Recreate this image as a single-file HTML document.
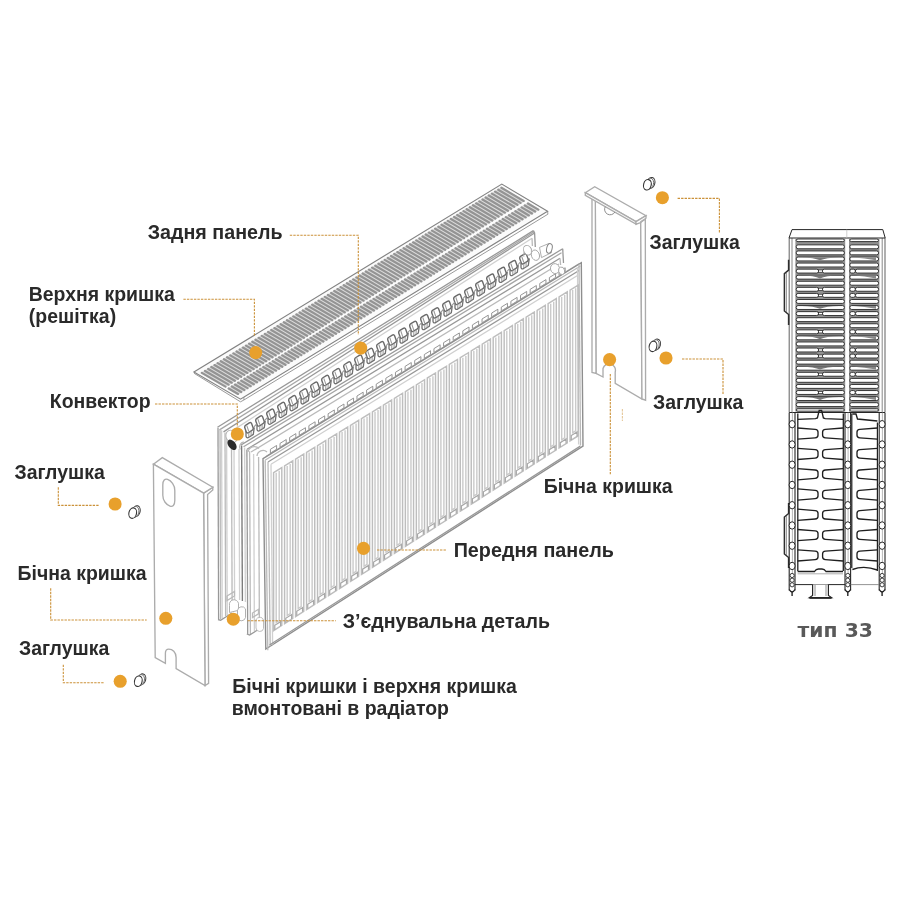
<!DOCTYPE html>
<html lang="uk">
<head>
<meta charset="utf-8">
<title>Радіатор тип 33</title>
<style>
html,body{margin:0;padding:0;background:#fff;}
body{width:900px;height:900px;overflow:hidden;position:relative;font-family:"Liberation Sans",sans-serif;}
svg{position:absolute;left:0;top:0;display:block;filter:blur(.45px)}
.lbl{filter:blur(.35px);position:absolute;white-space:nowrap;font-weight:bold;font-size:19.45px;line-height:21px;color:#2a2a2a;letter-spacing:0}
.typ{filter:blur(.35px);position:absolute;white-space:nowrap;font-family:"DejaVu Sans",sans-serif;font-weight:bold;font-size:20.3px;line-height:22px;color:#595959}
.g1{stroke:#989898;stroke-width:1.3;fill:none}
.g2{stroke:#bababa;stroke-width:1.3;fill:none}
.g2d{stroke:#a6a6a6;stroke-width:1.3;fill:none}
.g3{stroke:#d0d0d0;stroke-width:1.3;fill:none}
.gd{stroke:#7c7c7c;stroke-width:1.4;fill:none}
.wf{fill:#fff}
.dot{fill:#e8a02c;stroke:none}
.dash{stroke:#cb9138;stroke-width:1.1;fill:none;stroke-dasharray:2.4 1.1}
.sv{stroke:#4a4a4a;stroke-width:1;fill:none}
.svl{stroke:#6a6a6a;stroke-width:.8;fill:none}
</style>
</head>
<body>
<svg width="900" height="900" viewBox="0 0 900 900">
<g id="radiator">
<line x1="217.5" y1="427.3" x2="533.4" y2="230.6" class="g1"/>
<line x1="219.5" y1="429.9" x2="534" y2="231.8" class="g2d"/>
<line x1="223.5" y1="431.9" x2="534.2" y2="233.3" class="g1"/>
<line x1="226.5" y1="434.4" x2="532" y2="238.2" class="g3"/>
<polyline points="533.4,230.6 534.6,233 535.3,247" class="g1"/>
<polyline points="532,238.2 532.4,246" class="g2"/>
<line x1="218" y1="427.8" x2="218.6" y2="619.5" class="g1"/>
<line x1="220" y1="429.2" x2="220.6" y2="619.3" class="g2"/>
<line x1="221.6" y1="430.3" x2="222.2" y2="618.3" class="g3"/>
<line x1="225" y1="432.6" x2="225.6" y2="616" class="g2"/>
<line x1="226.6" y1="434" x2="227.2" y2="615" class="g3"/>
<line x1="231.5" y1="441" x2="232.1" y2="603" class="g2"/>
<line x1="234" y1="447" x2="234.6" y2="601" class="g3"/>
<line x1="239" y1="449" x2="239.6" y2="600" class="g3"/>
<polyline points="218,619.6 220.6,620.2 232,613" class="g1"/>
<polygon points="227,600.5 227,596 234.5,591.5 234.5,596" class="g2"/>
<path d="M246 431.4L246 436.2Q246.3 438.2 248.1 437.7L253.3 434.4L254.2 427.8ZM257 424.64L257 429.44Q257.3 431.44 259.1 430.94L264.3 427.64L265.2 421.04ZM268 417.89L268 422.69Q268.3 424.69 270.1 424.19L275.3 420.89L276.2 414.29ZM279 411.13L279 415.93Q279.3 417.93 281.1 417.43L286.3 414.13L287.2 407.53ZM290 404.38L290 409.18Q290.3 411.18 292.1 410.68L297.3 407.38L298.2 400.78ZM301 397.62L301 402.42Q301.3 404.42 303.1 403.92L308.3 400.62L309.2 394.02ZM312 390.87L312 395.67Q312.3 397.67 314.1 397.17L319.3 393.87L320.2 387.27ZM323 384.11L323 388.91Q323.3 390.91 325.1 390.41L330.3 387.11L331.2 380.51ZM334 377.36L334 382.16Q334.3 384.16 336.1 383.66L341.3 380.36L342.2 373.76ZM345 370.6L345 375.4Q345.3 377.4 347.1 376.9L352.3 373.6L353.2 367ZM356 363.85L356 368.65Q356.3 370.65 358.1 370.15L363.3 366.85L364.2 360.25ZM367 357.09L367 361.89Q367.3 363.89 369.1 363.39L374.3 360.09L375.2 353.49ZM378 350.34L378 355.14Q378.3 357.14 380.1 356.64L385.3 353.34L386.2 346.74ZM389 343.58L389 348.38Q389.3 350.38 391.1 349.88L396.3 346.58L397.2 339.98ZM400 336.82L400 341.62Q400.3 343.62 402.1 343.12L407.3 339.82L408.2 333.22ZM411 330.07L411 334.87Q411.3 336.87 413.1 336.37L418.3 333.07L419.2 326.47ZM422 323.31L422 328.11Q422.3 330.11 424.1 329.61L429.3 326.31L430.2 319.71ZM433 316.56L433 321.36Q433.3 323.36 435.1 322.86L440.3 319.56L441.2 312.96ZM444 309.8L444 314.6Q444.3 316.6 446.1 316.1L451.3 312.8L452.2 306.2ZM455 303.05L455 307.85Q455.3 309.85 457.1 309.35L462.3 306.05L463.2 299.45ZM466 296.29L466 301.09Q466.3 303.09 468.1 302.59L473.3 299.29L474.2 292.69ZM477 289.54L477 294.34Q477.3 296.34 479.1 295.84L484.3 292.54L485.2 285.94ZM488 282.78L488 287.58Q488.3 289.58 490.1 289.08L495.3 285.78L496.2 279.18ZM499 276.03L499 280.83Q499.3 282.83 501.1 282.33L506.3 279.03L507.2 272.43ZM510 269.27L510 274.07Q510.3 276.07 512.1 275.57L517.3 272.27L518.2 265.67ZM521 262.52L521 267.32Q521.3 269.32 523.1 268.82L528.3 265.52L529.2 258.92Z" fill="#fff" stroke="#707070" stroke-width="1.3" stroke-linejoin="round"/>
<path d="M244.88 427.98Q244.2 426.1 245.9 425.05L249.3 422.95Q251 421.9 251.68 423.78L253.02 427.52Q253.7 429.4 252 430.45L248.6 432.55Q246.9 433.6 246.22 431.72ZM255.88 421.23Q255.2 419.34 256.9 418.29L260.3 416.2Q262 415.14 262.68 417.03L264.02 420.76Q264.7 422.64 263 423.7L259.6 425.79Q257.9 426.84 257.22 424.96ZM266.88 414.47Q266.2 412.59 267.9 411.54L271.3 409.44Q273 408.39 273.68 410.27L275.02 414.01Q275.7 415.89 274 416.94L270.6 419.04Q268.9 420.09 268.22 418.21ZM277.88 407.72Q277.2 405.83 278.9 404.78L282.3 402.68Q284 401.63 284.68 403.52L286.02 407.25Q286.7 409.13 285 410.18L281.6 412.28Q279.9 413.33 279.22 411.45ZM288.88 400.96Q288.2 399.08 289.9 398.03L293.3 395.93Q295 394.88 295.68 396.76L297.02 400.5Q297.7 402.38 296 403.43L292.6 405.53Q290.9 406.58 290.22 404.7ZM299.88 394.2Q299.2 392.32 300.9 391.27L304.3 389.17Q306 388.12 306.68 390L308.02 393.74Q308.7 395.62 307 396.67L303.6 398.77Q301.9 399.82 301.22 397.94ZM310.88 387.45Q310.2 385.57 311.9 384.52L315.3 382.42Q317 381.37 317.68 383.25L319.02 386.99Q319.7 388.87 318 389.92L314.6 392.02Q312.9 393.07 312.22 391.19ZM321.88 380.69Q321.2 378.81 322.9 377.76L326.3 375.66Q328 374.61 328.68 376.49L330.02 380.23Q330.7 382.11 329 383.16L325.6 385.26Q323.9 386.31 323.22 384.43ZM332.88 373.94Q332.2 372.06 333.9 371.01L337.3 368.91Q339 367.86 339.68 369.74L341.02 373.48Q341.7 375.36 340 376.41L336.6 378.51Q334.9 379.56 334.22 377.68ZM343.88 367.18Q343.2 365.3 344.9 364.25L348.3 362.15Q350 361.1 350.68 362.98L352.02 366.72Q352.7 368.6 351 369.65L347.6 371.75Q345.9 372.8 345.22 370.92ZM354.88 360.43Q354.2 358.55 355.9 357.5L359.3 355.4Q361 354.35 361.68 356.23L363.02 359.96Q363.7 361.85 362 362.9L358.6 365Q356.9 366.05 356.22 364.16ZM365.88 353.67Q365.2 351.79 366.9 350.74L370.3 348.64Q372 347.59 372.68 349.47L374.02 353.21Q374.7 355.09 373 356.14L369.6 358.24Q367.9 359.29 367.22 357.41ZM376.88 346.92Q376.2 345.04 377.9 343.98L381.3 341.89Q383 340.84 383.68 342.72L385.02 346.45Q385.7 348.34 384 349.39L380.6 351.48Q378.9 352.54 378.22 350.65ZM387.88 340.16Q387.2 338.28 388.9 337.23L392.3 335.13Q394 334.08 394.68 335.96L396.02 339.7Q396.7 341.58 395 342.63L391.6 344.73Q389.9 345.78 389.22 343.9ZM398.88 333.41Q398.2 331.52 399.9 330.47L403.3 328.38Q405 327.32 405.68 329.21L407.02 332.94Q407.7 334.82 406 335.88L402.6 337.97Q400.9 339.02 400.22 337.14ZM409.88 326.65Q409.2 324.77 410.9 323.72L414.3 321.62Q416 320.57 416.68 322.45L418.02 326.19Q418.7 328.07 417 329.12L413.6 331.22Q411.9 332.27 411.22 330.39ZM420.88 319.9Q420.2 318.01 421.9 316.96L425.3 314.87Q427 313.81 427.68 315.7L429.02 319.43Q429.7 321.31 428 322.37L424.6 324.46Q422.9 325.51 422.22 323.63ZM431.88 313.14Q431.2 311.26 432.9 310.21L436.3 308.11Q438 307.06 438.68 308.94L440.02 312.68Q440.7 314.56 439 315.61L435.6 317.71Q433.9 318.76 433.22 316.88ZM442.88 306.39Q442.2 304.5 443.9 303.45L447.3 301.35Q449 300.3 449.68 302.19L451.02 305.92Q451.7 307.8 450 308.85L446.6 310.95Q444.9 312 444.22 310.12ZM453.88 299.63Q453.2 297.75 454.9 296.7L458.3 294.6Q460 293.55 460.68 295.43L462.02 299.17Q462.7 301.05 461 302.1L457.6 304.2Q455.9 305.25 455.22 303.37ZM464.88 292.87Q464.2 290.99 465.9 289.94L469.3 287.84Q471 286.79 471.68 288.67L473.02 292.41Q473.7 294.29 472 295.34L468.6 297.44Q466.9 298.49 466.22 296.61ZM475.88 286.12Q475.2 284.24 476.9 283.19L480.3 281.09Q482 280.04 482.68 281.92L484.02 285.66Q484.7 287.54 483 288.59L479.6 290.69Q477.9 291.74 477.22 289.86ZM486.88 279.36Q486.2 277.48 487.9 276.43L491.3 274.33Q493 273.28 493.68 275.16L495.02 278.9Q495.7 280.78 494 281.83L490.6 283.93Q488.9 284.98 488.22 283.1ZM497.88 272.61Q497.2 270.73 498.9 269.68L502.3 267.58Q504 266.53 504.68 268.41L506.02 272.14Q506.7 274.03 505 275.08L501.6 277.18Q499.9 278.23 499.22 276.34ZM508.88 265.85Q508.2 263.97 509.9 262.92L513.3 260.82Q515 259.77 515.68 261.65L517.02 265.39Q517.7 267.27 516 268.32L512.6 270.42Q510.9 271.47 510.22 269.59ZM519.88 259.1Q519.2 257.22 520.9 256.17L524.3 254.07Q526 253.02 526.68 254.9L528.02 258.63Q528.7 260.52 527 261.57L523.6 263.67Q521.9 264.72 521.22 262.83Z" fill="#fff" stroke="#6a6a6a" stroke-width="1.4" stroke-linejoin="round"/>
<path d="M248.8 432.6v4.199999999999999M251.1 431.2v4.3999999999999995M246.8 425.6L248.8 431.4M254 426.9L256.7 423.8M259.8 425.84v4.199999999999999M262.1 424.44v4.3999999999999995M257.8 418.84L259.8 424.64M265 420.14L267.7 417.04M270.8 419.09v4.199999999999999M273.1 417.69v4.3999999999999995M268.8 412.09L270.8 417.89M276 413.39L278.7 410.29M281.8 412.33v4.199999999999999M284.1 410.93v4.3999999999999995M279.8 405.33L281.8 411.13M287 406.63L289.7 403.53M292.8 405.58v4.199999999999999M295.1 404.18v4.3999999999999995M290.8 398.58L292.8 404.38M298 399.88L300.7 396.78M303.8 398.82v4.199999999999999M306.1 397.42v4.3999999999999995M301.8 391.82L303.8 397.62M309 393.12L311.7 390.02M314.8 392.07v4.199999999999999M317.1 390.67v4.3999999999999995M312.8 385.07L314.8 390.87M320 386.37L322.7 383.27M325.8 385.31v4.199999999999999M328.1 383.91v4.3999999999999995M323.8 378.31L325.8 384.11M331 379.61L333.7 376.51M336.8 378.56v4.199999999999999M339.1 377.16v4.3999999999999995M334.8 371.56L336.8 377.36M342 372.86L344.7 369.76M347.8 371.8v4.199999999999999M350.1 370.4v4.3999999999999995M345.8 364.8L347.8 370.6M353 366.1L355.7 363M358.8 365.05v4.199999999999999M361.1 363.65v4.3999999999999995M356.8 358.05L358.8 363.85M364 359.35L366.7 356.25M369.8 358.29v4.199999999999999M372.1 356.89v4.3999999999999995M367.8 351.29L369.8 357.09M375 352.59L377.7 349.49M380.8 351.54v4.199999999999999M383.1 350.14v4.3999999999999995M378.8 344.54L380.8 350.34M386 345.84L388.7 342.74M391.8 344.78v4.199999999999999M394.1 343.38v4.3999999999999995M389.8 337.78L391.8 343.58M397 339.08L399.7 335.98M402.8 338.02v4.199999999999999M405.1 336.62v4.3999999999999995M400.8 331.02L402.8 336.82M408 332.32L410.7 329.22M413.8 331.27v4.199999999999999M416.1 329.87v4.3999999999999995M411.8 324.27L413.8 330.07M419 325.57L421.7 322.47M424.8 324.51v4.199999999999999M427.1 323.11v4.3999999999999995M422.8 317.51L424.8 323.31M430 318.81L432.7 315.71M435.8 317.76v4.199999999999999M438.1 316.36v4.3999999999999995M433.8 310.76L435.8 316.56M441 312.06L443.7 308.96M446.8 311v4.199999999999999M449.1 309.6v4.3999999999999995M444.8 304L446.8 309.8M452 305.3L454.7 302.2M457.8 304.25v4.199999999999999M460.1 302.85v4.3999999999999995M455.8 297.25L457.8 303.05M463 298.55L465.7 295.45M468.8 297.49v4.199999999999999M471.1 296.09v4.3999999999999995M466.8 290.49L468.8 296.29M474 291.79L476.7 288.69M479.8 290.74v4.199999999999999M482.1 289.34v4.3999999999999995M477.8 283.74L479.8 289.54M485 285.04L487.7 281.94M490.8 283.98v4.199999999999999M493.1 282.58v4.3999999999999995M488.8 276.98L490.8 282.78M496 278.28L498.7 275.18M501.8 277.23v4.199999999999999M504.1 275.83v4.3999999999999995M499.8 270.23L501.8 276.03M507 271.53L509.7 268.43M512.8 270.47v4.199999999999999M515.1 269.07v4.3999999999999995M510.8 263.47L512.8 269.27M518 264.77L520.7 261.67M523.8 263.72v4.199999999999999M526.1 262.32v4.3999999999999995M521.8 256.72L523.8 262.52" fill="none" stroke="#999" stroke-width="1.05"/>
<polygon points="241,445 562.7,248.7 564,300 300,640 246.5,634" class="wf"/>
<line x1="241" y1="445" x2="562.7" y2="248.7" class="g1"/>
<line x1="243.5" y1="446.8" x2="561.5" y2="252.76" class="g2d"/>
<line x1="247" y1="449.3" x2="560" y2="258.31" class="g1"/>
<line x1="251" y1="452" x2="559" y2="264.06" class="g2"/>
<polyline points="562.7,248.7 563.5,263" class="g1"/>
<polyline points="560,258.31 560.6,265" class="g2"/>
<line x1="241.6" y1="445.5" x2="242.4" y2="601" class="gd"/>
<line x1="244.6" y1="447.6" x2="245.4" y2="602" class="g3"/>
<line x1="246.9" y1="449.5" x2="247.7" y2="634" class="g1"/>
<line x1="249.6" y1="451.3" x2="250.4" y2="634.5" class="g2"/>
<line x1="253.6" y1="454" x2="254.4" y2="631" class="g3"/>
<line x1="258.6" y1="457" x2="259.4" y2="628" class="g2"/>
<polyline points="246.8,634 249.6,635 263,626.5" class="g1"/>
<polygon points="252.5,617.5 252.5,613 258.5,609.3 258.5,613.8" class="g2"/>
<path d="M248 452a6.5 6.5 0 0 1 11 -3.5" class="g2"/>
<path d="M257 456a6 6 0 0 1 10 -4" class="g2"/>
<path d="M270.4 449.31L276.6 445.49L276.6 449.29L270.4 453.11ZM280.02 443.39L286.22 439.57L286.22 443.37L280.02 447.19ZM289.64 437.46L295.84 433.64L295.84 437.44L289.64 441.26ZM299.26 431.54L305.46 427.72L305.46 431.52L299.26 435.34ZM308.88 425.61L315.08 421.8L315.08 425.6L308.88 429.41ZM318.5 419.69L324.7 415.87L324.7 419.67L318.5 423.49ZM328.12 413.77L334.32 409.95L334.32 413.75L328.12 417.57ZM337.74 407.84L343.94 404.03L343.94 407.83L337.74 411.64ZM347.36 401.92L353.56 398.1L353.56 401.9L347.36 405.72ZM356.98 396L363.18 392.18L363.18 395.98L356.98 399.8ZM366.6 390.07L372.8 386.25L372.8 390.05L366.6 393.87ZM376.22 384.15L382.42 380.33L382.42 384.13L376.22 387.95ZM385.84 378.22L392.04 374.41L392.04 378.21L385.84 382.02ZM395.46 372.3L401.66 368.48L401.66 372.28L395.46 376.1ZM405.08 366.38L411.28 362.56L411.28 366.36L405.08 370.18ZM414.7 360.45L420.9 356.64L420.9 360.44L414.7 364.25ZM424.32 354.53L430.52 350.71L430.52 354.51L424.32 358.33ZM433.94 348.61L440.14 344.79L440.14 348.59L433.94 352.41ZM443.56 342.68L449.76 338.86L449.76 342.66L443.56 346.48ZM453.18 336.76L459.38 332.94L459.38 336.74L453.18 340.56ZM462.8 330.83L469 327.02L469 330.82L462.8 334.63ZM472.42 324.91L478.62 321.09L478.62 324.89L472.42 328.71ZM482.04 318.99L488.24 315.17L488.24 318.97L482.04 322.79ZM491.66 313.06L497.86 309.25L497.86 313.05L491.66 316.86ZM501.28 307.14L507.48 303.32L507.48 307.12L501.28 310.94ZM510.9 301.22L517.1 297.4L517.1 301.2L510.9 305.02ZM520.52 295.29L526.72 291.47L526.72 295.27L520.52 299.09ZM530.14 289.37L536.34 285.55L536.34 289.35L530.14 293.17ZM539.76 283.44L545.96 279.63L545.96 283.43L539.76 287.24ZM549.38 277.52L555.58 273.7L555.58 277.5L549.38 281.32ZM559 271.6L565.2 267.78L565.2 271.58L559 275.4Z" fill="#fff" stroke="#8a8a8a" stroke-width=".9" stroke-linejoin="round"/>
<path d="M272.5 452.8L278 449.41M282.12 446.88L287.62 443.49M291.74 440.95L297.24 437.57M301.36 435.03L306.86 431.64M310.98 429.11L316.48 425.72M320.6 423.18L326.1 419.79M330.22 417.26L335.72 413.87M339.84 411.33L345.34 407.95M349.46 405.41L354.96 402.02M359.08 399.49L364.58 396.1M368.7 393.56L374.2 390.18M378.32 387.64L383.82 384.25M387.94 381.72L393.44 378.33M397.56 375.79L403.06 372.4M407.18 369.87L412.68 366.48M416.8 363.94L422.3 360.56M426.42 358.02L431.92 354.63M436.04 352.1L441.54 348.71M445.66 346.17L451.16 342.79M455.28 340.25L460.78 336.86M464.9 334.33L470.4 330.94M474.52 328.4L480.02 325.02M484.14 322.48L489.64 319.09M493.76 316.55L499.26 313.17M503.38 310.63L508.88 307.24M513 304.71L518.5 301.32M522.62 298.78L528.12 295.4M532.24 292.86L537.74 289.47M541.86 286.94L547.36 283.55M551.48 281.01L556.98 277.63M561.1 275.09L566.6 271.7" fill="none" stroke="#6e6e6e" stroke-width="1.1"/>
<line x1="266" y1="456.6" x2="579" y2="263.86" class="g2"/>
<polygon points="263,458.7 581.3,262.7 583,446 265.8,649" fill="#fff" stroke="#8e8e8e" stroke-width="1.4"/>
<line x1="265" y1="460.2" x2="580.4" y2="265.99" class="g2"/>
<line x1="268" y1="462" x2="579" y2="270.5" class="g1"/>
<line x1="271" y1="464.3" x2="577.5" y2="275.57" class="g3"/>
<line x1="265.2" y1="460.2" x2="267.8" y2="650.2" class="g2"/>
<line x1="268" y1="462" x2="270.2" y2="646.5" class="g2"/>
<line x1="271" y1="464.3" x2="272.6" y2="644.6" class="g3"/>
<line x1="579" y1="264.5" x2="580.5" y2="445.5" class="g2"/>
<line x1="577.5" y1="267" x2="578.6" y2="444.5" class="g3"/>
<line x1="269.5" y1="645" x2="580.3" y2="446.1" class="g1"/>
<path d="M273.6 630.71L273.6 472.67L281.8 467.62L281.8 625.46ZM284.58 623.68L284.58 465.91L292.78 460.86L292.78 618.43ZM295.56 616.65L295.56 459.15L303.76 454.1L303.76 611.41ZM306.54 609.63L306.54 452.39L314.74 447.34L314.74 604.38ZM317.52 602.6L317.52 445.63L325.72 440.58L325.72 597.35ZM328.5 595.57L328.5 438.87L336.7 433.82L336.7 590.33ZM339.48 588.55L339.48 432.11L347.68 427.06L347.68 583.3ZM350.46 581.52L350.46 425.34L358.66 420.3L358.66 576.27ZM361.44 574.49L361.44 418.58L369.64 413.53L369.64 569.25ZM372.42 567.47L372.42 411.82L380.62 406.77L380.62 562.22ZM383.4 560.44L383.4 405.06L391.6 400.01L391.6 555.19ZM394.38 553.41L394.38 398.3L402.58 393.25L402.58 548.16ZM405.36 546.39L405.36 391.54L413.56 386.49L413.56 541.14ZM416.34 539.36L416.34 384.78L424.54 379.73L424.54 534.11ZM427.32 532.33L427.32 378.02L435.52 372.97L435.52 527.08ZM438.3 525.3L438.3 371.26L446.5 366.21L446.5 520.06ZM449.28 518.28L449.28 364.49L457.48 359.44L457.48 513.03ZM460.26 511.25L460.26 357.73L468.46 352.68L468.46 506ZM471.24 504.22L471.24 350.97L479.44 345.92L479.44 498.98ZM482.22 497.2L482.22 344.21L490.42 339.16L490.42 491.95ZM493.2 490.17L493.2 337.45L501.4 332.4L501.4 484.92ZM504.18 483.14L504.18 330.69L512.38 325.64L512.38 477.9ZM515.16 476.12L515.16 323.93L523.36 318.88L523.36 470.87ZM526.14 469.09L526.14 317.17L534.34 312.12L534.34 463.84ZM537.12 462.06L537.12 310.4L545.32 305.36L545.32 456.81ZM548.1 455.04L548.1 303.64L556.3 298.59L556.3 449.79ZM559.08 448.01L559.08 296.88L567.28 291.83L567.28 442.76ZM570.06 440.98L570.06 290.12L578.26 285.07L578.26 435.73Z" fill="none" stroke="#bebebe" stroke-width="1.45"/>
<path d="M274.8 629.64L274.8 625.34L280.6 621.63L280.6 625.93M285.78 622.61L285.78 618.31L291.58 614.6L291.58 618.9M296.76 615.59L296.76 611.29L302.56 607.57L302.56 611.87M307.74 608.56L307.74 604.26L313.54 600.55L313.54 604.85M318.72 601.53L318.72 597.23L324.52 593.52L324.52 597.82M329.7 594.51L329.7 590.21L335.5 586.49L335.5 590.79M340.68 587.48L340.68 583.18L346.48 579.47L346.48 583.77M351.66 580.45L351.66 576.15L357.46 572.44L357.46 576.74M362.64 573.42L362.64 569.12L368.44 565.41L368.44 569.71M373.62 566.4L373.62 562.1L379.42 558.39L379.42 562.69M384.6 559.37L384.6 555.07L390.4 551.36L390.4 555.66M395.58 552.34L395.58 548.04L401.38 544.33L401.38 548.63M406.56 545.32L406.56 541.02L412.36 537.31L412.36 541.61M417.54 538.29L417.54 533.99L423.34 530.28L423.34 534.58M428.52 531.26L428.52 526.96L434.32 523.25L434.32 527.55M439.5 524.24L439.5 519.94L445.3 516.22L445.3 520.52M450.48 517.21L450.48 512.91L456.28 509.2L456.28 513.5M461.46 510.18L461.46 505.88L467.26 502.17L467.26 506.47M472.44 503.16L472.44 498.86L478.24 495.14L478.24 499.44M483.42 496.13L483.42 491.83L489.22 488.12L489.22 492.42M494.4 489.1L494.4 484.8L500.2 481.09L500.2 485.39M505.38 482.07L505.38 477.77L511.18 474.06L511.18 478.36M516.36 475.05L516.36 470.75L522.16 467.04L522.16 471.34M527.34 468.02L527.34 463.72L533.14 460.01L533.14 464.31M538.32 460.99L538.32 456.69L544.12 452.98L544.12 457.28M549.3 453.97L549.3 449.67L555.1 445.96L555.1 450.26M560.28 446.94L560.28 442.64L566.08 438.93L566.08 443.23M571.26 439.91L571.26 435.61L577.06 431.9L577.06 436.2" fill="none" stroke="#a8a8a8" stroke-width="1.2"/>
<path d="M276.2 472.67L276.2 622.54L279.2 620.62L279.2 470.82M287.18 465.91L287.18 615.52L290.18 613.6L290.18 464.06M298.16 459.15L298.16 608.49L301.16 606.57L301.16 457.3M309.14 452.39L309.14 601.46L312.14 599.54L312.14 450.54M320.12 445.63L320.12 594.44L323.12 592.52L323.12 443.78M331.1 438.87L331.1 587.41L334.1 585.49L334.1 437.02M342.08 432.1L342.08 580.38L345.08 578.46L345.08 430.26M353.06 425.34L353.06 573.36L356.06 571.44L356.06 423.5M364.04 418.58L364.04 566.33L367.04 564.41L367.04 416.74M375.02 411.82L375.02 559.3L378.02 557.38L378.02 409.97M386 405.06L386 552.28L389 550.36L389 403.21M396.98 398.3L396.98 545.25L399.98 543.33L399.98 396.45M407.96 391.54L407.96 538.22L410.96 536.3L410.96 389.69M418.94 384.78L418.94 531.19L421.94 529.27L421.94 382.93M429.92 378.02L429.92 524.17L432.92 522.25L432.92 376.17M440.9 371.25L440.9 517.14L443.9 515.22L443.9 369.41M451.88 364.49L451.88 510.11L454.88 508.19L454.88 362.65M462.86 357.73L462.86 503.09L465.86 501.17L465.86 355.88M473.84 350.97L473.84 496.06L476.84 494.14L476.84 349.12M484.82 344.21L484.82 489.03L487.82 487.11L487.82 342.36M495.8 337.45L495.8 482.01L498.8 480.09L498.8 335.6M506.78 330.69L506.78 474.98L509.78 473.06L509.78 328.84M517.76 323.93L517.76 467.95L520.76 466.03L520.76 322.08M528.74 317.16L528.74 460.93L531.74 459.01L531.74 315.32M539.72 310.4L539.72 453.9L542.72 451.98L542.72 308.56M550.7 303.64L550.7 446.87L553.7 444.95L553.7 301.8M561.68 296.88L561.68 439.84L564.68 437.92L564.68 295.03M572.66 290.12L572.66 432.82L575.66 430.9L575.66 288.27" fill="none" stroke="#cacaca" stroke-width="1.4"/>
<ellipse cx="231.6" cy="436.5" rx="5.4" ry="6.6" transform="rotate(-30 231.6 436.5)" fill="#fff" stroke="#b0b0b0" stroke-width=".9"/>
<ellipse cx="232" cy="444.8" rx="3.7" ry="5.9" transform="rotate(-38 232 444.8)" fill="#2b2b2b" stroke="none"/>
<path d="M240.3 449.5a5 5 0 0 1 3.5 -7.5" class="g2"/>
<path d="M229.5 612.5l0 -7a4.6 4.6 0 0 1 9 -2.2l0 7z" fill="#fff" stroke="#a8a8a8" stroke-width=".9"/>
<path d="M237.5 618.5l0 -8a4.3 4.3 0 0 1 8 -1.6l0 8.6a4.3 4.3 0 0 1 -8 1z" fill="#fff" stroke="#a8a8a8" stroke-width=".9"/>
<path d="M256 628l0 -6a3.8 3.8 0 0 1 7.5 -1.5l0 8a3.8 3.8 0 0 1 -7.5 -.5z" fill="#fff" stroke="#b5b5b5" stroke-width=".9"/>
<ellipse cx="527.6" cy="250.2" rx="3.9" ry="5" transform="rotate(-25 527.6 250.2)" fill="#fff" stroke="#a6a6a6" stroke-width=".9"/>
<path d="M523.8 251.5l0 5.5M531.4 249l0 6" fill="none" stroke="#b5b5b5" stroke-width=".8"/>
<polygon points="539.5,247.4 548.6,243.6 551.6,252.6 541.5,257.6" fill="#fff" stroke="#a6a6a6" stroke-width=".9"/>
<ellipse cx="535.4" cy="255.2" rx="4" ry="5.3" transform="rotate(-18 535.4 255.2)" fill="#fff" stroke="#a6a6a6" stroke-width=".9"/>
<ellipse cx="549.4" cy="248.4" rx="2.7" ry="4.9" transform="rotate(14 549.4 248.4)" fill="#fff" stroke="#858585" stroke-width="1"/>
<ellipse cx="555" cy="268.6" rx="4.5" ry="5" transform="rotate(-15 555 268.6)" fill="#fff" stroke="#a6a6a6" stroke-width=".9"/>
<ellipse cx="561.6" cy="270.8" rx="3" ry="3.8" transform="rotate(-15 561.6 270.8)" fill="#fff" stroke="#a6a6a6" stroke-width=".9"/>
</g>
<g id="grille">
<polyline points="194.1,373.3 240.5,401.8 243.9,400 547.9,214.2 547.6,211.2" fill="#fff" stroke="#8f8f8f" stroke-width=".9"/>
<polygon points="193.9,372.1 501.8,184.1 547.6,211.2 240.5,399.2" fill="#fbfbfb" stroke="#838383" stroke-width="1.15"/>
<line x1="243.9" y1="400" x2="243.9" y2="397" stroke="#8a8a8a" stroke-width=".8"/>
<polygon points="200.32,372.9 501.4,186.82 525.22,200.92 225.48,387.53" fill="#dcdcdc" stroke="none"/>
<polygon points="227.11,388.48 527.97,202.54 539.88,209.59 238.06,394.85" fill="#dcdcdc" stroke="none"/>
<path d="M201.89 372.89L225.46 386.6M228.68 388.47L238.04 393.92M205.04 370.94L228.6 384.65M231.83 386.53L241.2 391.98M208.19 368.99L231.74 382.69M234.98 384.58L244.36 390.04M211.34 367.04L234.88 380.74M238.13 382.63L247.52 388.1M214.5 365.09L238.01 378.78M241.28 380.68L250.68 386.16M217.65 363.15L241.15 376.83M244.43 378.74L253.84 384.22M220.8 361.2L244.29 374.88M247.58 376.79L257.01 382.28M223.95 359.25L247.43 372.92M250.73 374.84L260.17 380.34M227.11 357.3L250.57 370.97M253.88 372.89L263.33 378.4M230.26 355.35L253.71 369.01M257.03 370.95L266.49 376.46M233.41 353.4L256.85 367.06M260.18 369L269.65 374.52M236.56 351.45L259.99 365.1M263.33 367.05L272.81 372.58M239.72 349.5L263.12 363.15M266.48 365.1L275.97 370.64M242.87 347.56L266.26 361.19M269.63 363.16L279.13 368.7M246.02 345.61L269.4 359.24M272.78 361.21L282.29 366.76M249.17 343.66L272.54 357.29M275.93 359.26L285.45 364.82M252.33 341.71L275.68 355.33M279.08 357.31L288.61 362.88M255.48 339.76L278.82 353.38M282.23 355.37L291.78 360.94M258.63 337.81L281.96 351.42M285.38 353.42L294.94 359M261.78 335.86L285.1 349.47M288.53 351.47L298.1 357.06M264.94 333.91L288.23 347.51M291.68 349.53L301.26 355.11M268.09 331.97L291.37 345.56M294.83 347.58L304.42 353.17M271.24 330.02L294.51 343.6M297.98 345.63L307.58 351.23M274.4 328.07L297.65 341.65M301.13 343.68L310.74 349.29M277.55 326.12L300.79 339.69M304.28 341.74L313.9 347.35M280.7 324.17L303.93 337.74M307.43 339.79L317.06 345.41M283.85 322.22L307.07 335.79M310.58 337.84L320.22 343.47M287.01 320.27L310.21 333.83M313.73 335.89L323.38 341.53M290.16 318.32L313.34 331.88M316.88 333.95L326.54 339.59M293.31 316.38L316.48 329.92M320.04 332L329.71 337.65M296.46 314.43L319.62 327.97M323.19 330.05L332.87 335.71M299.62 312.48L322.76 326.01M326.34 328.1L336.03 333.77M302.77 310.53L325.9 324.06M329.49 326.16L339.19 331.83M305.92 308.58L329.04 322.1M332.64 324.21L342.35 329.89M309.08 306.63L332.18 320.15M335.79 322.26L345.51 327.95M312.23 304.68L335.32 318.2M338.94 320.31L348.67 326.01M315.38 302.73L338.46 316.24M342.09 318.37L351.83 324.07M318.53 300.78L341.59 314.29M345.24 316.42L354.99 322.13M321.69 298.84L344.73 312.33M348.39 314.47L358.15 320.19M324.84 296.89L347.87 310.38M351.54 312.53L361.31 318.25M327.99 294.94L351.01 308.42M354.69 310.58L364.48 316.31M331.14 292.99L354.15 306.47M357.84 308.63L367.64 314.37M334.3 291.04L357.29 304.51M360.99 306.68L370.8 312.43M337.45 289.09L360.43 302.56M364.14 304.74L373.96 310.49M340.6 287.14L363.57 300.6M367.29 302.79L377.12 308.55M343.76 285.19L366.71 298.65M370.44 300.84L380.28 306.61M346.91 283.25L369.85 296.7M373.59 298.89L383.44 304.67M350.06 281.3L372.98 294.74M376.74 296.95L386.6 302.73M353.21 279.35L376.12 292.79M379.89 295L389.76 300.79M356.37 277.4L379.26 290.83M383.04 293.05L392.92 298.85M359.52 275.45L382.4 288.88M386.2 291.1L396.08 296.91M362.67 273.5L385.54 286.92M389.35 289.16L399.25 294.97M365.83 271.55L388.68 284.97M392.5 287.21L402.41 293.03M368.98 269.6L391.82 283.01M395.65 285.26L405.57 291.09M372.13 267.65L394.96 281.06M398.8 283.31L408.73 289.15M375.29 265.71L398.1 279.11M401.95 281.37L411.89 287.21M378.44 263.76L401.24 277.15M405.1 279.42L415.05 285.27M381.59 261.81L404.38 275.2M408.25 277.47L418.21 283.33M384.74 259.86L407.51 273.24M411.4 275.53L421.37 281.39M387.9 257.91L410.65 271.29M414.55 273.58L424.53 279.45M391.05 255.96L413.79 269.33M417.7 271.63L427.69 277.51M394.2 254.01L416.93 267.38M420.85 269.68L430.86 275.57M397.36 252.06L420.07 265.42M424 267.74L434.02 273.62M400.51 250.12L423.21 263.47M427.15 265.79L437.18 271.68M403.66 248.17L426.35 261.51M430.3 263.84L440.34 269.74M406.81 246.22L429.49 259.56M433.45 261.89L443.5 267.8M409.97 244.27L432.63 257.61M436.6 259.95L446.66 265.86M413.12 242.32L435.77 255.65M439.76 258L449.82 263.92M416.27 240.37L438.91 253.7M442.91 256.05L452.98 261.98M419.43 238.42L442.05 251.74M446.06 254.1L456.14 260.04M422.58 236.47L445.18 249.79M449.21 252.16L459.3 258.1M425.73 234.53L448.32 247.83M452.36 250.21L462.46 256.16M428.89 232.58L451.46 245.88M455.51 248.26L465.63 254.22M432.04 230.63L454.6 243.92M458.66 246.31L468.79 252.28M435.19 228.68L457.74 241.97M461.81 244.37L471.95 250.34M438.34 226.73L460.88 240.01M464.96 242.42L475.11 248.4M441.5 224.78L464.02 238.06M468.11 240.47L478.27 246.46M444.65 222.83L467.16 236.11M471.26 238.52L481.43 244.52M447.8 220.88L470.3 234.15M474.41 236.58L484.59 242.58M450.96 218.93L473.44 232.2M477.56 234.63L487.75 240.64M454.11 216.99L476.58 230.24M480.71 232.68L490.91 238.7M457.26 215.04L479.72 228.29M483.87 230.74L494.07 236.76M460.42 213.09L482.86 226.33M487.02 228.79L497.24 234.82M463.57 211.14L486 224.38M490.17 226.84L500.4 232.88M466.72 209.19L489.14 222.42M493.32 224.89L503.56 230.94M469.88 207.24L492.28 220.47M496.47 222.95L506.72 229M473.03 205.29L495.41 218.52M499.62 221L509.88 227.06M476.18 203.34L498.55 216.56M502.77 219.05L513.04 225.12M479.33 201.4L501.69 214.61M505.92 217.1L516.2 223.18M482.49 199.45L504.83 212.65M509.07 215.16L519.36 221.24M485.64 197.5L507.97 210.7M512.22 213.21L522.52 219.3M488.79 195.55L511.11 208.74M515.37 211.26L525.68 217.36M491.95 193.6L514.25 206.79M518.52 209.31L528.85 215.42M495.1 191.65L517.39 204.83M521.67 207.37L532.01 213.48M498.25 189.7L520.53 202.88M524.83 205.42L535.17 211.54M501.41 187.75L523.67 200.92M527.98 203.47L538.33 209.6" stroke="#949494" stroke-width="2.25" stroke-linecap="round" fill="none"/>
</g>
<g id="covers">
<polygon points="203.6,493.1 212.8,487.2 212.8,490 207.6,494.6 208.6,683.3 205,685.6" fill="#fff" stroke="#acacac" stroke-width="1.35"/>
<polygon points="153.4,464.2 162.3,457.6 212.8,487.2 203.6,493.1" fill="#fff" stroke="#acacac" stroke-width="1.35"/>
<path d="M153.4 464.2L203.6 493.1L205 685.6L176.1 668.7L176.1 657.6C176.1 652.2 172.4 649.1 168.8 649.1C166.4 649.1 165.4 650.8 165.4 653.2L165.4 663.3L155.2 657.6Z" fill="#fff" stroke="#acacac" stroke-width="1.35"/>
<path d="M162.8 485C162.8 480.2 165 478.5 167.6 479.4C171.2 480.7 174.8 484.8 174.8 490.4L174.8 500.6C174.8 505.3 172.6 507 170 506.1C166.4 504.8 162.8 500.8 162.8 495.2Z" fill="#fff" stroke="#acacac" stroke-width="1.35"/>
<path d="M595.3 196L640.7 222.5L642 399L615.2 383.4L615.2 372A6.2 6.2 0 0 0 603 368.5L603 377L596 373.4Z" fill="#fff" stroke="#acacac" stroke-width="1.35"/>
<polygon points="592,196.2 595.3,194.2 596,373.4 592,372.4" fill="#fff" stroke="#acacac" stroke-width="1.35"/>
<polygon points="640.7,222.5 645.3,219 645.6,400.2 642,399" fill="#fff" stroke="#acacac" stroke-width="1.35"/>
<polygon points="585.3,192.7 594.7,186.7 646,215.7 636,221.6" fill="#fff" stroke="#acacac" stroke-width="1.35"/>
<polygon points="585.3,192.7 636,221.6 636,224.2 585.3,195.4" fill="#fff" stroke="#acacac" stroke-width="1.35"/>
<polygon points="636,221.6 646,215.7 646,218.2 640.8,221.5 640.8,222.6 636,224.2" fill="#fff" stroke="#acacac" stroke-width="1.35"/>
<path d="M605.3 206.6a5.2 5.2 0 0 0 9.6 5.4" fill="none" stroke="#8c8c8c" stroke-width="1"/>
<ellipse cx="136.3" cy="511.2" rx="3.8" ry="5.5" transform="rotate(14 136.3 511.2)" fill="#fff" stroke="#3a3a3a" stroke-width="1.05"/>
<ellipse cx="135" cy="511.9" rx="3.8" ry="5.5" transform="rotate(14 135 511.9)" fill="#fff" stroke="#5c5c5c" stroke-width=".8"/>
<ellipse cx="132.7" cy="513.1" rx="3.8" ry="5.3" transform="rotate(14 132.7 513.1)" fill="#fff" stroke="#333" stroke-width="1.1"/>
<ellipse cx="141.9" cy="679.3" rx="3.8" ry="5.5" transform="rotate(14 141.9 679.3)" fill="#fff" stroke="#3a3a3a" stroke-width="1.05"/>
<ellipse cx="140.6" cy="680" rx="3.8" ry="5.5" transform="rotate(14 140.6 680)" fill="#fff" stroke="#5c5c5c" stroke-width=".8"/>
<ellipse cx="138.3" cy="681.2" rx="3.8" ry="5.3" transform="rotate(14 138.3 681.2)" fill="#fff" stroke="#333" stroke-width="1.1"/>
<ellipse cx="651" cy="182.9" rx="3.8" ry="5.5" transform="rotate(14 651 182.9)" fill="#fff" stroke="#3a3a3a" stroke-width="1.05"/>
<ellipse cx="649.7" cy="183.6" rx="3.8" ry="5.5" transform="rotate(14 649.7 183.6)" fill="#fff" stroke="#5c5c5c" stroke-width=".8"/>
<ellipse cx="647.4" cy="184.8" rx="3.8" ry="5.3" transform="rotate(14 647.4 184.8)" fill="#fff" stroke="#333" stroke-width="1.1"/>
<ellipse cx="656.6" cy="344.5" rx="3.8" ry="5.5" transform="rotate(14 656.6 344.5)" fill="#fff" stroke="#3a3a3a" stroke-width="1.05"/>
<ellipse cx="655.3" cy="345.2" rx="3.8" ry="5.5" transform="rotate(14 655.3 345.2)" fill="#fff" stroke="#5c5c5c" stroke-width=".8"/>
<ellipse cx="653" cy="346.4" rx="3.8" ry="5.3" transform="rotate(14 653 346.4)" fill="#fff" stroke="#333" stroke-width="1.1"/>
</g>
<g id="sideview">
<line x1="789.2" y1="238" x2="789.2" y2="412" stroke="#6e6e6e" stroke-width="1.1"/>
<line x1="885" y1="238" x2="885" y2="412" stroke="#6e6e6e" stroke-width="1.1"/>
<line x1="792" y1="238" x2="792" y2="412" stroke="#7a7a7a" stroke-width=".9"/>
<line x1="882.2" y1="238" x2="882.2" y2="412" stroke="#7a7a7a" stroke-width=".9"/>
<polygon points="792,229.6 882.8,229.6 885.2,238 789,238" fill="#fff" stroke="#262626" stroke-width="1"/>
<line x1="846.8" y1="229.6" x2="846.8" y2="238" stroke="#bbb" stroke-width=".7"/>
<rect x="795.4" y="237.9" width="49.8" height="173.7" fill="#919191"/>
<rect x="849" y="237.9" width="30.4" height="173.7" fill="#919191"/>
<rect x="796.2" y="239" width="48.2" height="2.6" rx="1.9" fill="#fff" stroke="#262626" stroke-width=".9"/>
<rect x="849.8" y="239" width="28.8" height="2.6" rx="1.9" fill="#fff" stroke="#262626" stroke-width=".9"/>
<rect x="796.2" y="244.87" width="48.2" height="3.9" rx="1.9" fill="#fff" stroke="#262626" stroke-width=".9"/>
<rect x="849.8" y="244.87" width="28.8" height="3.9" rx="1.9" fill="#fff" stroke="#262626" stroke-width=".9"/>
<rect x="796.2" y="250.94" width="48.2" height="3.9" rx="1.9" fill="#fff" stroke="#262626" stroke-width=".9"/>
<rect x="849.8" y="250.94" width="28.8" height="3.9" rx="1.9" fill="#fff" stroke="#262626" stroke-width=".9"/>
<rect x="796.2" y="257.01" width="48.2" height="3.9" rx="1.9" fill="#fff" stroke="#262626" stroke-width=".9"/>
<path d="M802 257.41Q814 257.61 820 260.31Q826 257.61 839 257.41Z" fill="#777" stroke="none"/>
<rect x="849.8" y="257.01" width="28.8" height="3.9" rx="1.9" fill="#fff" stroke="#262626" stroke-width=".9"/>
<path d="M854 257.41Q864 257.81 876 260.31L876 257.41Z" fill="#888" stroke="none"/>
<rect x="796.2" y="263.08" width="48.2" height="3.9" rx="1.9" fill="#fff" stroke="#262626" stroke-width=".9"/>
<rect x="849.8" y="263.08" width="28.8" height="3.9" rx="1.9" fill="#fff" stroke="#262626" stroke-width=".9"/>
<rect x="796.2" y="269.15" width="22.4" height="3.9" rx="1.9" fill="#fff" stroke="#262626" stroke-width=".9"/>
<rect x="822.4" y="269.15" width="22" height="3.9" rx="1.9" fill="#fff" stroke="#262626" stroke-width=".9"/>
<rect x="818.6" y="269.95" width="3.8" height="2.3" fill="#fff" stroke="#262626" stroke-width=".7"/>
<rect x="849.8" y="269.15" width="5.6" height="3.9" rx="1.9" fill="#fff" stroke="#262626" stroke-width=".9"/>
<rect x="855.4" y="269.15" width="23.2" height="3.9" rx="1.9" fill="#fff" stroke="#262626" stroke-width=".9"/>
<rect x="796.2" y="275.22" width="48.2" height="3.9" rx="1.9" fill="#fff" stroke="#262626" stroke-width=".9"/>
<path d="M802 275.62Q814 275.82 820 278.52Q826 275.82 839 275.62Z" fill="#777" stroke="none"/>
<rect x="849.8" y="275.22" width="28.8" height="3.9" rx="1.9" fill="#fff" stroke="#262626" stroke-width=".9"/>
<path d="M854 275.62Q864 276.02 876 278.52L876 275.62Z" fill="#888" stroke="none"/>
<rect x="796.2" y="281.29" width="48.2" height="3.9" rx="1.9" fill="#fff" stroke="#262626" stroke-width=".9"/>
<rect x="849.8" y="281.29" width="28.8" height="3.9" rx="1.9" fill="#fff" stroke="#262626" stroke-width=".9"/>
<rect x="796.2" y="287.36" width="22.4" height="3.9" rx="1.9" fill="#fff" stroke="#262626" stroke-width=".9"/>
<rect x="822.4" y="287.36" width="22" height="3.9" rx="1.9" fill="#fff" stroke="#262626" stroke-width=".9"/>
<rect x="818.6" y="288.16" width="3.8" height="2.3" fill="#fff" stroke="#262626" stroke-width=".7"/>
<rect x="849.8" y="287.36" width="5.6" height="3.9" rx="1.9" fill="#fff" stroke="#262626" stroke-width=".9"/>
<rect x="855.4" y="287.36" width="23.2" height="3.9" rx="1.9" fill="#fff" stroke="#262626" stroke-width=".9"/>
<rect x="796.2" y="293.43" width="22.4" height="3.9" rx="1.9" fill="#fff" stroke="#262626" stroke-width=".9"/>
<rect x="822.4" y="293.43" width="22" height="3.9" rx="1.9" fill="#fff" stroke="#262626" stroke-width=".9"/>
<rect x="818.6" y="294.23" width="3.8" height="2.3" fill="#fff" stroke="#262626" stroke-width=".7"/>
<rect x="849.8" y="293.43" width="5.6" height="3.9" rx="1.9" fill="#fff" stroke="#262626" stroke-width=".9"/>
<rect x="855.4" y="293.43" width="23.2" height="3.9" rx="1.9" fill="#fff" stroke="#262626" stroke-width=".9"/>
<rect x="796.2" y="299.5" width="48.2" height="3.9" rx="1.9" fill="#fff" stroke="#262626" stroke-width=".9"/>
<rect x="849.8" y="299.5" width="28.8" height="3.9" rx="1.9" fill="#fff" stroke="#262626" stroke-width=".9"/>
<rect x="796.2" y="305.57" width="48.2" height="3.9" rx="1.9" fill="#fff" stroke="#262626" stroke-width=".9"/>
<path d="M802 305.97Q814 306.17 820 308.87Q826 306.17 839 305.97Z" fill="#777" stroke="none"/>
<rect x="849.8" y="305.57" width="28.8" height="3.9" rx="1.9" fill="#fff" stroke="#262626" stroke-width=".9"/>
<path d="M854 305.97Q864 306.37 876 308.87L876 305.97Z" fill="#888" stroke="none"/>
<rect x="796.2" y="311.64" width="22.4" height="3.9" rx="1.9" fill="#fff" stroke="#262626" stroke-width=".9"/>
<rect x="822.4" y="311.64" width="22" height="3.9" rx="1.9" fill="#fff" stroke="#262626" stroke-width=".9"/>
<rect x="818.6" y="312.44" width="3.8" height="2.3" fill="#fff" stroke="#262626" stroke-width=".7"/>
<rect x="849.8" y="311.64" width="5.6" height="3.9" rx="1.9" fill="#fff" stroke="#262626" stroke-width=".9"/>
<rect x="855.4" y="311.64" width="23.2" height="3.9" rx="1.9" fill="#fff" stroke="#262626" stroke-width=".9"/>
<rect x="796.2" y="317.71" width="48.2" height="3.9" rx="1.9" fill="#fff" stroke="#262626" stroke-width=".9"/>
<rect x="849.8" y="317.71" width="28.8" height="3.9" rx="1.9" fill="#fff" stroke="#262626" stroke-width=".9"/>
<rect x="796.2" y="323.78" width="48.2" height="3.9" rx="1.9" fill="#fff" stroke="#262626" stroke-width=".9"/>
<rect x="849.8" y="323.78" width="28.8" height="3.9" rx="1.9" fill="#fff" stroke="#262626" stroke-width=".9"/>
<rect x="796.2" y="329.85" width="22.4" height="3.9" rx="1.9" fill="#fff" stroke="#262626" stroke-width=".9"/>
<rect x="822.4" y="329.85" width="22" height="3.9" rx="1.9" fill="#fff" stroke="#262626" stroke-width=".9"/>
<rect x="818.6" y="330.65" width="3.8" height="2.3" fill="#fff" stroke="#262626" stroke-width=".7"/>
<rect x="849.8" y="329.85" width="5.6" height="3.9" rx="1.9" fill="#fff" stroke="#262626" stroke-width=".9"/>
<rect x="855.4" y="329.85" width="23.2" height="3.9" rx="1.9" fill="#fff" stroke="#262626" stroke-width=".9"/>
<rect x="796.2" y="335.92" width="48.2" height="3.9" rx="1.9" fill="#fff" stroke="#262626" stroke-width=".9"/>
<path d="M802 336.32Q814 336.52 820 339.22Q826 336.52 839 336.32Z" fill="#777" stroke="none"/>
<rect x="849.8" y="335.92" width="28.8" height="3.9" rx="1.9" fill="#fff" stroke="#262626" stroke-width=".9"/>
<path d="M854 336.32Q864 336.72 876 339.22L876 336.32Z" fill="#888" stroke="none"/>
<rect x="796.2" y="341.99" width="48.2" height="3.9" rx="1.9" fill="#fff" stroke="#262626" stroke-width=".9"/>
<rect x="849.8" y="341.99" width="28.8" height="3.9" rx="1.9" fill="#fff" stroke="#262626" stroke-width=".9"/>
<rect x="796.2" y="348.06" width="22.4" height="3.9" rx="1.9" fill="#fff" stroke="#262626" stroke-width=".9"/>
<rect x="822.4" y="348.06" width="22" height="3.9" rx="1.9" fill="#fff" stroke="#262626" stroke-width=".9"/>
<rect x="818.6" y="348.86" width="3.8" height="2.3" fill="#fff" stroke="#262626" stroke-width=".7"/>
<rect x="849.8" y="348.06" width="5.6" height="3.9" rx="1.9" fill="#fff" stroke="#262626" stroke-width=".9"/>
<rect x="855.4" y="348.06" width="23.2" height="3.9" rx="1.9" fill="#fff" stroke="#262626" stroke-width=".9"/>
<rect x="796.2" y="354.13" width="22.4" height="3.9" rx="1.9" fill="#fff" stroke="#262626" stroke-width=".9"/>
<rect x="822.4" y="354.13" width="22" height="3.9" rx="1.9" fill="#fff" stroke="#262626" stroke-width=".9"/>
<rect x="818.6" y="354.93" width="3.8" height="2.3" fill="#fff" stroke="#262626" stroke-width=".7"/>
<rect x="849.8" y="354.13" width="5.6" height="3.9" rx="1.9" fill="#fff" stroke="#262626" stroke-width=".9"/>
<rect x="855.4" y="354.13" width="23.2" height="3.9" rx="1.9" fill="#fff" stroke="#262626" stroke-width=".9"/>
<rect x="796.2" y="360.2" width="48.2" height="3.9" rx="1.9" fill="#fff" stroke="#262626" stroke-width=".9"/>
<rect x="849.8" y="360.2" width="28.8" height="3.9" rx="1.9" fill="#fff" stroke="#262626" stroke-width=".9"/>
<rect x="796.2" y="366.27" width="48.2" height="3.9" rx="1.9" fill="#fff" stroke="#262626" stroke-width=".9"/>
<path d="M802 366.67Q814 366.87 820 369.57Q826 366.87 839 366.67Z" fill="#777" stroke="none"/>
<rect x="849.8" y="366.27" width="28.8" height="3.9" rx="1.9" fill="#fff" stroke="#262626" stroke-width=".9"/>
<path d="M854 366.67Q864 367.07 876 369.57L876 366.67Z" fill="#888" stroke="none"/>
<rect x="796.2" y="372.34" width="22.4" height="3.9" rx="1.9" fill="#fff" stroke="#262626" stroke-width=".9"/>
<rect x="822.4" y="372.34" width="22" height="3.9" rx="1.9" fill="#fff" stroke="#262626" stroke-width=".9"/>
<rect x="818.6" y="373.14" width="3.8" height="2.3" fill="#fff" stroke="#262626" stroke-width=".7"/>
<rect x="849.8" y="372.34" width="5.6" height="3.9" rx="1.9" fill="#fff" stroke="#262626" stroke-width=".9"/>
<rect x="855.4" y="372.34" width="23.2" height="3.9" rx="1.9" fill="#fff" stroke="#262626" stroke-width=".9"/>
<rect x="796.2" y="378.41" width="48.2" height="3.9" rx="1.9" fill="#fff" stroke="#262626" stroke-width=".9"/>
<rect x="849.8" y="378.41" width="28.8" height="3.9" rx="1.9" fill="#fff" stroke="#262626" stroke-width=".9"/>
<rect x="796.2" y="384.48" width="48.2" height="3.9" rx="1.9" fill="#fff" stroke="#262626" stroke-width=".9"/>
<rect x="849.8" y="384.48" width="28.8" height="3.9" rx="1.9" fill="#fff" stroke="#262626" stroke-width=".9"/>
<rect x="796.2" y="390.55" width="22.4" height="3.9" rx="1.9" fill="#fff" stroke="#262626" stroke-width=".9"/>
<rect x="822.4" y="390.55" width="22" height="3.9" rx="1.9" fill="#fff" stroke="#262626" stroke-width=".9"/>
<rect x="818.6" y="391.35" width="3.8" height="2.3" fill="#fff" stroke="#262626" stroke-width=".7"/>
<rect x="849.8" y="390.55" width="5.6" height="3.9" rx="1.9" fill="#fff" stroke="#262626" stroke-width=".9"/>
<rect x="855.4" y="390.55" width="23.2" height="3.9" rx="1.9" fill="#fff" stroke="#262626" stroke-width=".9"/>
<rect x="796.2" y="396.62" width="48.2" height="3.9" rx="1.9" fill="#fff" stroke="#262626" stroke-width=".9"/>
<path d="M802 397.02Q814 397.22 820 399.92Q826 397.22 839 397.02Z" fill="#777" stroke="none"/>
<rect x="849.8" y="396.62" width="28.8" height="3.9" rx="1.9" fill="#fff" stroke="#262626" stroke-width=".9"/>
<path d="M854 397.02Q864 397.42 876 399.92L876 397.02Z" fill="#888" stroke="none"/>
<rect x="796.2" y="402.69" width="48.2" height="3.9" rx="1.9" fill="#fff" stroke="#262626" stroke-width=".9"/>
<rect x="849.8" y="402.69" width="28.8" height="3.9" rx="1.9" fill="#fff" stroke="#262626" stroke-width=".9"/>
<rect x="796.2" y="408.76" width="48.2" height="2.4" rx="1.9" fill="#fff" stroke="#262626" stroke-width=".9"/>
<rect x="849.8" y="408.76" width="28.8" height="2.4" rx="1.9" fill="#fff" stroke="#262626" stroke-width=".9"/>
<path d="M788.6 259.7L788.6 270.2L784.4 273.7L784.4 311L788.6 314.5L788.6 325" fill="none" stroke="#2e2e2e" stroke-width="1.5"/>
<line x1="786.4" y1="272.7" x2="786.4" y2="312" stroke="#777" stroke-width=".8"/>
<path d="M788.6 503L788.6 513.5L784.4 517L784.4 554L788.6 557.5L788.6 568" fill="none" stroke="#2e2e2e" stroke-width="1.5"/>
<line x1="786.4" y1="516" x2="786.4" y2="555" stroke="#777" stroke-width=".8"/>
<line x1="789.2" y1="412.5" x2="885" y2="412.5" stroke="#262626" stroke-width="1"/>
<line x1="789.2" y1="412.5" x2="789.2" y2="590.5" stroke="#262626" stroke-width="1.1"/>
<line x1="795" y1="412.5" x2="795" y2="590.5" stroke="#262626" stroke-width="1.1"/>
<line x1="792.4" y1="412.5" x2="792.4" y2="574.5" stroke="#a5a5a5" stroke-width=".8"/>
<ellipse cx="792.1" cy="424.2" rx="3" ry="3.7" fill="#fff" stroke="#262626" stroke-width="1"/>
<ellipse cx="792.1" cy="444.45" rx="3" ry="3.7" fill="#fff" stroke="#262626" stroke-width="1"/>
<ellipse cx="792.1" cy="464.7" rx="3" ry="3.7" fill="#fff" stroke="#262626" stroke-width="1"/>
<ellipse cx="792.1" cy="484.95" rx="3" ry="3.7" fill="#fff" stroke="#262626" stroke-width="1"/>
<ellipse cx="792.1" cy="505.2" rx="3" ry="3.7" fill="#fff" stroke="#262626" stroke-width="1"/>
<ellipse cx="792.1" cy="525.45" rx="3" ry="3.7" fill="#fff" stroke="#262626" stroke-width="1"/>
<ellipse cx="792.1" cy="545.7" rx="3" ry="3.7" fill="#fff" stroke="#262626" stroke-width="1"/>
<ellipse cx="792.1" cy="565.95" rx="3" ry="3.7" fill="#fff" stroke="#262626" stroke-width="1"/>
<circle cx="792.1" cy="575.5" r="2.1" fill="#fff" stroke="#262626" stroke-width=".9"/>
<circle cx="792.1" cy="580.2" r="2.1" fill="#fff" stroke="#262626" stroke-width=".9"/>
<circle cx="792.1" cy="584.8" r="2.1" fill="#fff" stroke="#262626" stroke-width=".9"/>
<path d="M789.2 589.5Q792.1 594.5 795 589.5" fill="none" stroke="#1f1f1f" stroke-width="1.35"/>
<line x1="792.1" y1="592" x2="792.1" y2="596" stroke="#262626" stroke-width="1.4"/>
<line x1="845" y1="412.5" x2="845" y2="590.5" stroke="#262626" stroke-width="1.1"/>
<line x1="850.6" y1="412.5" x2="850.6" y2="590.5" stroke="#262626" stroke-width="1.1"/>
<line x1="848.1" y1="412.5" x2="848.1" y2="574.5" stroke="#a5a5a5" stroke-width=".8"/>
<ellipse cx="847.8" cy="424.2" rx="3" ry="3.7" fill="#fff" stroke="#262626" stroke-width="1"/>
<ellipse cx="847.8" cy="444.45" rx="3" ry="3.7" fill="#fff" stroke="#262626" stroke-width="1"/>
<ellipse cx="847.8" cy="464.7" rx="3" ry="3.7" fill="#fff" stroke="#262626" stroke-width="1"/>
<ellipse cx="847.8" cy="484.95" rx="3" ry="3.7" fill="#fff" stroke="#262626" stroke-width="1"/>
<ellipse cx="847.8" cy="505.2" rx="3" ry="3.7" fill="#fff" stroke="#262626" stroke-width="1"/>
<ellipse cx="847.8" cy="525.45" rx="3" ry="3.7" fill="#fff" stroke="#262626" stroke-width="1"/>
<ellipse cx="847.8" cy="545.7" rx="3" ry="3.7" fill="#fff" stroke="#262626" stroke-width="1"/>
<ellipse cx="847.8" cy="565.95" rx="3" ry="3.7" fill="#fff" stroke="#262626" stroke-width="1"/>
<circle cx="847.8" cy="575.5" r="2.1" fill="#fff" stroke="#262626" stroke-width=".9"/>
<circle cx="847.8" cy="580.2" r="2.1" fill="#fff" stroke="#262626" stroke-width=".9"/>
<circle cx="847.8" cy="584.8" r="2.1" fill="#fff" stroke="#262626" stroke-width=".9"/>
<path d="M845 589.5Q847.8 594.5 850.6 589.5" fill="none" stroke="#1f1f1f" stroke-width="1.35"/>
<line x1="847.8" y1="592" x2="847.8" y2="596" stroke="#262626" stroke-width="1.4"/>
<line x1="879.2" y1="412.5" x2="879.2" y2="590.5" stroke="#262626" stroke-width="1.1"/>
<line x1="885" y1="412.5" x2="885" y2="590.5" stroke="#262626" stroke-width="1.1"/>
<line x1="882.4" y1="412.5" x2="882.4" y2="574.5" stroke="#a5a5a5" stroke-width=".8"/>
<ellipse cx="882.1" cy="424.2" rx="3" ry="3.7" fill="#fff" stroke="#262626" stroke-width="1"/>
<ellipse cx="882.1" cy="444.45" rx="3" ry="3.7" fill="#fff" stroke="#262626" stroke-width="1"/>
<ellipse cx="882.1" cy="464.7" rx="3" ry="3.7" fill="#fff" stroke="#262626" stroke-width="1"/>
<ellipse cx="882.1" cy="484.95" rx="3" ry="3.7" fill="#fff" stroke="#262626" stroke-width="1"/>
<ellipse cx="882.1" cy="505.2" rx="3" ry="3.7" fill="#fff" stroke="#262626" stroke-width="1"/>
<ellipse cx="882.1" cy="525.45" rx="3" ry="3.7" fill="#fff" stroke="#262626" stroke-width="1"/>
<ellipse cx="882.1" cy="545.7" rx="3" ry="3.7" fill="#fff" stroke="#262626" stroke-width="1"/>
<ellipse cx="882.1" cy="565.95" rx="3" ry="3.7" fill="#fff" stroke="#262626" stroke-width="1"/>
<circle cx="882.1" cy="575.5" r="2.1" fill="#fff" stroke="#262626" stroke-width=".9"/>
<circle cx="882.1" cy="580.2" r="2.1" fill="#fff" stroke="#262626" stroke-width=".9"/>
<circle cx="882.1" cy="584.8" r="2.1" fill="#fff" stroke="#262626" stroke-width=".9"/>
<path d="M879.2 589.5Q882.1 594.5 885 589.5" fill="none" stroke="#1f1f1f" stroke-width="1.35"/>
<line x1="882.1" y1="592" x2="882.1" y2="596" stroke="#262626" stroke-width="1.4"/>
<line x1="797.8" y1="413.5" x2="797.8" y2="571" stroke="#1f1f1f" stroke-width="1.3"/>
<line x1="843.3" y1="413.5" x2="843.3" y2="571" stroke="#1f1f1f" stroke-width="1.3"/>
<line x1="851.8" y1="413.5" x2="851.8" y2="568" stroke="#1f1f1f" stroke-width="1.2"/>
<line x1="877.4" y1="422.5" x2="877.4" y2="571" stroke="#1f1f1f" stroke-width="1.2"/>
<path d="M797.8 419.3L815.5 418.6L817.4 418L819.2 410.4L821.6 410.4L823.4 418L825.2 418.6L843.3 419.3" fill="none" stroke="#1f1f1f" stroke-width="1.35"/>
<path d="M852.4 414L856 414L857.5 419L877.4 421" fill="none" stroke="#1f1f1f" stroke-width="1.35"/>
<path d="M797.6 428L815.2 429.4Q818 429.6 818 432L818 435.2Q818 437.6 815.2 437.8L797.6 439.2" fill="none" stroke="#1f1f1f" stroke-width="1.35"/>
<path d="M843 428L825.4 429.4Q822.6 429.6 822.6 432L822.6 435.2Q822.6 437.6 825.4 437.8L843 439.2" fill="none" stroke="#1f1f1f" stroke-width="1.35"/>
<path d="M877.4 428L859.8 429.4Q857 429.6 857 432L857 435.2Q857 437.6 859.8 437.8L877.4 439.2" fill="none" stroke="#1f1f1f" stroke-width="1.35"/>
<path d="M797.6 448.3L815.2 449.7Q818 449.9 818 452.3L818 455.5Q818 457.9 815.2 458.1L797.6 459.5" fill="none" stroke="#1f1f1f" stroke-width="1.35"/>
<path d="M843 448.3L825.4 449.7Q822.6 449.9 822.6 452.3L822.6 455.5Q822.6 457.9 825.4 458.1L843 459.5" fill="none" stroke="#1f1f1f" stroke-width="1.35"/>
<path d="M877.4 448.3L859.8 449.7Q857 449.9 857 452.3L857 455.5Q857 457.9 859.8 458.1L877.4 459.5" fill="none" stroke="#1f1f1f" stroke-width="1.35"/>
<path d="M797.6 468.6L815.2 470Q818 470.2 818 472.6L818 475.8Q818 478.2 815.2 478.4L797.6 479.8" fill="none" stroke="#1f1f1f" stroke-width="1.35"/>
<path d="M843 468.6L825.4 470Q822.6 470.2 822.6 472.6L822.6 475.8Q822.6 478.2 825.4 478.4L843 479.8" fill="none" stroke="#1f1f1f" stroke-width="1.35"/>
<path d="M877.4 468.6L859.8 470Q857 470.2 857 472.6L857 475.8Q857 478.2 859.8 478.4L877.4 479.8" fill="none" stroke="#1f1f1f" stroke-width="1.35"/>
<path d="M797.6 488.9L815.2 490.3Q818 490.5 818 492.9L818 496.1Q818 498.5 815.2 498.7L797.6 500.1" fill="none" stroke="#1f1f1f" stroke-width="1.35"/>
<path d="M843 488.9L825.4 490.3Q822.6 490.5 822.6 492.9L822.6 496.1Q822.6 498.5 825.4 498.7L843 500.1" fill="none" stroke="#1f1f1f" stroke-width="1.35"/>
<path d="M877.4 488.9L859.8 490.3Q857 490.5 857 492.9L857 496.1Q857 498.5 859.8 498.7L877.4 500.1" fill="none" stroke="#1f1f1f" stroke-width="1.35"/>
<path d="M797.6 509.2L815.2 510.6Q818 510.8 818 513.2L818 516.4Q818 518.8 815.2 519L797.6 520.4" fill="none" stroke="#1f1f1f" stroke-width="1.35"/>
<path d="M843 509.2L825.4 510.6Q822.6 510.8 822.6 513.2L822.6 516.4Q822.6 518.8 825.4 519L843 520.4" fill="none" stroke="#1f1f1f" stroke-width="1.35"/>
<path d="M877.4 509.2L859.8 510.6Q857 510.8 857 513.2L857 516.4Q857 518.8 859.8 519L877.4 520.4" fill="none" stroke="#1f1f1f" stroke-width="1.35"/>
<path d="M797.6 529.5L815.2 530.9Q818 531.1 818 533.5L818 536.7Q818 539.1 815.2 539.3L797.6 540.7" fill="none" stroke="#1f1f1f" stroke-width="1.35"/>
<path d="M843 529.5L825.4 530.9Q822.6 531.1 822.6 533.5L822.6 536.7Q822.6 539.1 825.4 539.3L843 540.7" fill="none" stroke="#1f1f1f" stroke-width="1.35"/>
<path d="M877.4 529.5L859.8 530.9Q857 531.1 857 533.5L857 536.7Q857 539.1 859.8 539.3L877.4 540.7" fill="none" stroke="#1f1f1f" stroke-width="1.35"/>
<path d="M797.6 549.8L815.2 551.2Q818 551.4 818 553.8L818 557Q818 559.4 815.2 559.6L797.6 561" fill="none" stroke="#1f1f1f" stroke-width="1.35"/>
<path d="M843 549.8L825.4 551.2Q822.6 551.4 822.6 553.8L822.6 557Q822.6 559.4 825.4 559.6L843 561" fill="none" stroke="#1f1f1f" stroke-width="1.35"/>
<path d="M877.4 549.8L859.8 551.2Q857 551.4 857 553.8L857 557Q857 559.4 859.8 559.6L877.4 561" fill="none" stroke="#1f1f1f" stroke-width="1.35"/>
<path d="M797.6 571.5L814.5 571.5Q816 569 818.5 569L822 569Q824.5 569 826 571.5L843 571.5" fill="none" stroke="#1f1f1f" stroke-width="1.35"/>
<path d="M852.4 569.5Q864 565 877.4 570" fill="none" stroke="#1f1f1f" stroke-width="1.35"/>
<line x1="797.6" y1="573.8" x2="843" y2="573.8" stroke="#999" stroke-width=".8"/>
<line x1="795" y1="584.6" x2="845" y2="584.6" stroke="#262626" stroke-width="1"/>
<line x1="850.6" y1="584.6" x2="879.2" y2="584.6" stroke="#888" stroke-width=".9"/>
<path d="M812.6 584.6L812.6 595.4L809.4 597.6L831.6 597.6L828.4 595.4L828.4 584.6" fill="#fff" stroke="#262626" stroke-width="1.2"/>
<line x1="815" y1="585" x2="815" y2="596" stroke="#777" stroke-width=".8"/>
<line x1="826" y1="585" x2="826" y2="596" stroke="#777" stroke-width=".8"/>
<line x1="809.4" y1="598.2" x2="831.6" y2="598.2" stroke="#262626" stroke-width="1.3"/>
</g>
<g id="leaders">
<polyline points="289.8,235.2 358.3,235.2 358.3,335" class="dash"/>
<polyline points="183.4,299.2 254.4,299.2 254.4,336" class="dash"/>
<polyline points="155,404 237.3,404 237.3,427" class="dash"/>
<polyline points="58.3,487.3 58.3,505.4 99.3,505.4" class="dash"/>
<polyline points="50.7,588.3 50.7,620 146.7,620" class="dash"/>
<polyline points="63.3,664.7 63.3,682.8 104.3,682.8" class="dash"/>
<polyline points="247.5,620.8 335.8,620.8" class="dash"/>
<polyline points="377,550 446,550" class="dash"/>
<polyline points="677.6,198.4 719.4,198.4 719.4,233" class="dash"/>
<polyline points="682,359 723,359 723,395" class="dash"/>
<polyline points="610.3,374 610.3,474.3" class="dash"/>
<line x1="622.4" y1="409" x2="622.4" y2="421" class="dash" opacity=".5"/>
<circle cx="255.7" cy="352.6" r="6.55" class="dot"/>
<circle cx="360.7" cy="348.1" r="6.55" class="dot"/>
<circle cx="237.3" cy="434" r="6.55" class="dot"/>
<circle cx="115.1" cy="504" r="6.55" class="dot"/>
<circle cx="165.8" cy="618.3" r="6.55" class="dot"/>
<circle cx="120.2" cy="681.3" r="6.55" class="dot"/>
<circle cx="233.3" cy="619.2" r="6.55" class="dot"/>
<circle cx="363.5" cy="548.4" r="6.55" class="dot"/>
<circle cx="662.4" cy="197.7" r="6.55" class="dot"/>
<circle cx="666" cy="358" r="6.55" class="dot"/>
<circle cx="609.6" cy="359.6" r="6.55" class="dot"/>
</g>
</svg>
<div class="lbl" style="left:147.66px;top:221.75px;font-size:19.7px">Задня панель</div>
<div class="lbl" style="left:28.7px;top:283.75px">Верхня кришка</div>
<div class="lbl" style="left:28.83px;top:305.75px">(решітка)</div>
<div class="lbl" style="left:49.8px;top:390.75px">Конвектор</div>
<div class="lbl" style="left:14.46px;top:461.75px">Заглушка</div>
<div class="lbl" style="left:17.6px;top:562.75px">Бічна кришка</div>
<div class="lbl" style="left:18.96px;top:637.75px">Заглушка</div>
<div class="lbl" style="left:342.66px;top:610.75px;font-size:19.62px">З’єднувальна деталь</div>
<div class="lbl" style="left:232.3px;top:675.75px">Бічні кришки і верхня кришка</div>
<div class="lbl" style="left:231.74px;top:697.75px">вмонтовані в радіатор</div>
<div class="lbl" style="left:649.46px;top:231.75px">Заглушка</div>
<div class="lbl" style="left:653.06px;top:391.75px">Заглушка</div>
<div class="lbl" style="left:543.7px;top:475.75px">Бічна кришка</div>
<div class="lbl" style="left:453.68px;top:539.75px;font-size:19.75px">Передня панель</div>
<div class="typ" style="left:797.6px;top:619.01px">тип 33</div>
</body>
</html>
